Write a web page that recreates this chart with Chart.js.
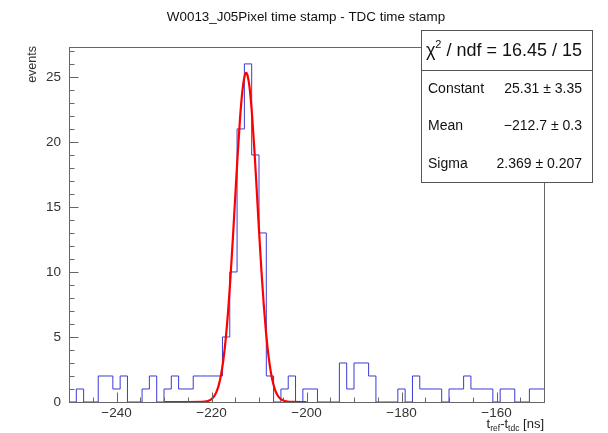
<!DOCTYPE html>
<html>
<head>
<meta charset="utf-8">
<script src="https://cdn.jsdelivr.net/npm/chart.js@4"></script>
<style>
  body { margin: 0; background: #fff; }
  canvas { display: block; }
</style>
</head>
<body>
<canvas id="myChart" width="608" height="433"></canvas>
<script>
// histogram: 65 bins from -250 to -150 ns
var binLow = -250;
var binHigh = -150;
var counts = [0, 1, 0, 0, 2, 2, 1, 2, 0, 0,
              1, 2, 0, 1, 2, 1, 1, 2, 2, 2,
              2, 5, 10, 21, 26, 19, 13, 2, 0, 1,
              2, 0, 1, 1, 0, 0, 0, 3, 1, 3,
              3, 2, 0, 0, 0, 1, 0, 2, 1, 1,
              1, 0, 1, 1, 2, 1, 1, 1, 0, 1,
              1, 0, 0, 1, 1];

// gaus fit curve
var fitX = [-230, -225, -222, -221, -220.5, -220, -219.5, -219, -218.5, -218,
            -217.5, -217, -216.5, -216, -215.5, -215, -214.5, -214, -213.5, -213,
            -212.7, -212.5, -212, -211.5, -211, -210.5, -210, -209.5, -209, -208.5,
            -208, -207.5, -207, -206.5, -206, -205.5, -205, -204, -203, -200];
var fitY = [0, 0, 0.01, 0.05, 0.11, 0.22, 0.41, 0.74, 1.26, 2.07,
            3.25, 4.88, 6.99, 9.59, 12.59, 15.8, 18.96, 21.77, 23.91, 25.11,
            25.31, 25.22, 24.23, 22.26, 19.56, 16.44, 13.22, 10.16, 7.48, 5.26,
            3.54, 2.28, 1.4, 0.82, 0.46, 0.25, 0.13, 0.03, 0.01, 0];

var xTicks = [-240, -220, -200, -180, -160];
var yTicks = [0, 5, 10, 15, 20, 25];
var yMax = 27.3;

var statRows = [['Constant', '25.31 \u00b1 3.35'],
                ['Mean', '\u2212212.7 \u00b1 0.3'],
                ['Sigma', '2.369 \u00b1 0.207']];

var FONT = '"Liberation Sans", Arial, Helvetica, sans-serif';

var binWidth = (binHigh - binLow) / counts.length;
var histPoints = [];
for (var i = 0; i < counts.length; i++) {
    histPoints.push({x: binLow + i * binWidth, y: counts[i]});
}
histPoints.push({x: binHigh, y: counts[counts.length - 1]});

var fitPoints = fitX.map(function(x, i) { return {x: x, y: fitY[i]}; });

function minus(v) { return String(v).replace('-', '\u2212'); }

var rootLook = {
    id: 'rootLook',
    afterDraw: function(chart) {
        var ctx = chart.ctx, a = chart.chartArea;
        var x = chart.scales.x, y = chart.scales.y;
        var L = Math.round(a.left) + 0.5, R = Math.round(a.right) + 0.5;
        var T = Math.round(a.top) + 0.5, B = Math.round(a.bottom) + 0.5;
        ctx.save();

        // frame
        ctx.strokeStyle = '#666';
        ctx.lineWidth = 1;
        ctx.strokeRect(L, T, R - L, B - T);

        // ticks, inside the frame
        ctx.beginPath();
        for (var v = -250; v <= -150; v += 5) {
            var px = Math.round(x.getPixelForValue(v)) + 0.5;
            var len = (v % 20 === 0) ? 10 : 5;
            ctx.moveTo(px, B); ctx.lineTo(px, B - len);
        }
        for (var k = 0; k <= 27; k++) {
            var py = Math.round(y.getPixelForValue(k)) + 0.5;
            var ln = (k % 5 === 0) ? 9 : 5;
            ctx.moveTo(L, py); ctx.lineTo(L + ln, py);
        }
        ctx.stroke();

        // title
        ctx.fillStyle = '#111';
        ctx.font = '13.4px ' + FONT;
        ctx.textAlign = 'center';
        ctx.textBaseline = 'middle';
        ctx.fillText('W0013_J05Pixel time stamp - TDC time stamp', 306, 17);

        // y title
        ctx.save();
        ctx.translate(33, a.top - 1);
        ctx.rotate(-Math.PI / 2);
        ctx.font = '12.5px ' + FONT;
        ctx.fillStyle = '#333';
        ctx.textAlign = 'right';
        ctx.fillText('events', 0, 0);
        ctx.restore();

        // x title with subscripts
        var parts = [['t', 13, 0], ['ref', 8.5, 3], ['-t', 13, 0], ['tdc', 8.5, 3], [' [ns]', 13, 0]];
        var total = 0;
        parts.forEach(function(p) { ctx.font = p[1] + 'px ' + FONT; total += ctx.measureText(p[0]).width; });
        var cx = a.right - total;
        ctx.fillStyle = '#222';
        ctx.textAlign = 'left';
        ctx.textBaseline = 'alphabetic';
        parts.forEach(function(p) {
            ctx.font = p[1] + 'px ' + FONT;
            ctx.fillText(p[0], cx, 428 + p[2]);
            cx += ctx.measureText(p[0]).width;
        });

        // stats box
        var bx = 421.5, by = 30.5, bw = 171, bh = 152;
        ctx.fillStyle = '#fff';
        ctx.fillRect(bx, by, bw, bh);
        ctx.strokeStyle = '#555';
        ctx.strokeRect(bx, by, bw, bh);
        ctx.beginPath();
        ctx.moveTo(bx, 70.5); ctx.lineTo(bx + bw, 70.5);
        ctx.stroke();

        ctx.fillStyle = '#111';
        ctx.textBaseline = 'middle';
        var hdr = [['\u03c7', 18, 0], ['2', 11, -6], [' / ndf = 16.45 / 15', 18, 0]];
        var hw = 0;
        hdr.forEach(function(p) { ctx.font = p[1] + 'px ' + FONT; hw += ctx.measureText(p[0]).width; });
        var hx = 504 - hw / 2;
        hdr.forEach(function(p) {
            ctx.font = p[1] + 'px ' + FONT;
            ctx.fillText(p[0], hx, 51 + p[2]);
            hx += ctx.measureText(p[0]).width;
        });

        ctx.font = '14px ' + FONT;
        statRows.forEach(function(r, i) {
            var ry = 89 + i * 37.5;
            ctx.textAlign = 'left';
            ctx.fillText(r[0], 428, ry);
            ctx.textAlign = 'right';
            ctx.fillText(r[1], 582, ry);
        });

        ctx.restore();
    }
};

new Chart(document.getElementById('myChart').getContext('2d'), {
    type: 'line',
    data: {
        datasets: [{
            label: 'fit',
            data: fitPoints,
            borderColor: '#ff0000',
            borderWidth: 2.2,
            pointRadius: 0,
            cubicInterpolationMode: 'monotone',
            clip: false,
            fill: false
        }, {
            label: 'hist',
            data: histPoints,
            stepped: 'before',
            borderColor: '#3a3ad6',
            borderWidth: 1,
            pointRadius: 0,
            fill: false
        }]
    },
    options: {
        responsive: false,
        animation: false,
        events: [],
        layout: {padding: {left: 0, top: 47, right: 64, bottom: 0}},
        plugins: {
            legend: {display: false},
            title: {display: false},
            tooltip: {enabled: false}
        },
        scales: {
            x: {
                type: 'linear',
                min: binLow,
                max: binHigh,
                afterBuildTicks: function(s) { s.ticks = xTicks.map(function(v) { return {value: v}; }); },
                afterFit: function(s) { s.height = 31; },
                grid: {display: false, drawTicks: false, tickLength: 0},
                border: {display: false},
                ticks: {
                    color: '#333',
                    font: {family: FONT, size: 13.5},
                    padding: 3,
                    maxRotation: 0,
                    autoSkip: false,
                    callback: function(v) { return minus(v); }
                }
            },
            y: {
                min: 0,
                max: yMax,
                afterBuildTicks: function(s) { s.ticks = yTicks.map(function(v) { return {value: v}; }); },
                afterFit: function(s) { s.width = 69; },
                grid: {display: false, drawTicks: false, tickLength: 0},
                border: {display: false},
                ticks: {
                    color: '#333',
                    font: {family: FONT, size: 13.5},
                    padding: 8
                }
            }
        }
    },
    plugins: [rootLook]
});
</script>
</body>
</html>
